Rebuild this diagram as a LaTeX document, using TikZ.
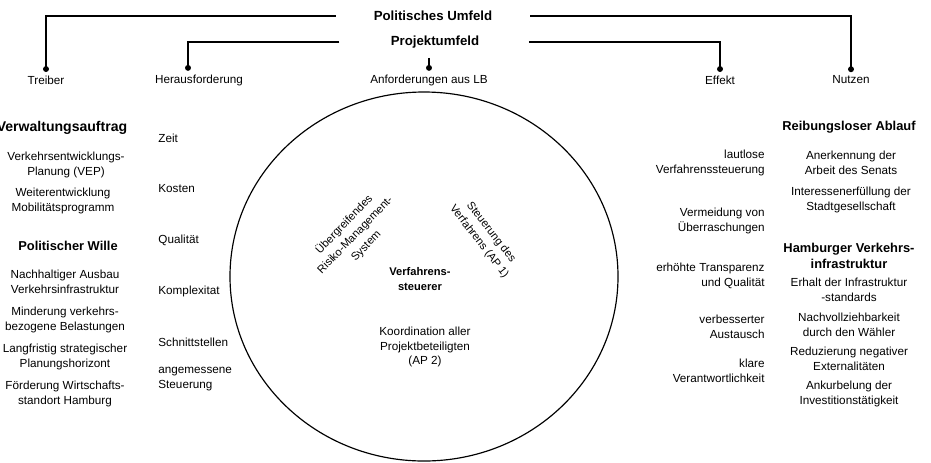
\documentclass[tikz,border=0pt]{standalone}
\usepackage{fontspec}
\setmainfont{Liberation Sans}
\usetikzlibrary{arrows.meta, shapes.geometric, calc}

\begin{document}
\begin{tikzpicture}[
    x=0.03cm, y=-0.03cm,
    txt/.style={font=\fontsize{10}{12.75}\selectfont, align=center, inner sep=1pt},
    head/.style={font=\fontsize{11}{13.5}\selectfont\bfseries, align=center, inner sep=1pt},
    lefttxt/.style={txt, anchor=west, align=left},
    righttxt/.style={txt, anchor=east, align=right},
    turned/.style={txt, font=\fontsize{9.5}{13}\selectfont},
    link/.style={line width=1pt, -{Circle[length=5pt]}, shorten >=2pt},
]

\useasboundingbox (0,0) rectangle (931,462);
\clip (0,0) rectangle (931,462);

% Umfeld
\node[head, font=\fontsize{11.3}{13.5}\selectfont\bfseries] (pol) at (433,16) {Politisches Umfeld};
\node[head, font=\fontsize{11.3}{13.5}\selectfont\bfseries] (proj) at (435,42) {Projektumfeld};

% Columns
\node[txt] (treib) at (46,80) {Treiber};
\node[txt] (her) at (199,80) {Herausforderung};
\node[txt] (anf) at (429,80) {Anforderungen aus LB};
\node[txt] (eff) at (720,80) {Effekt};
\node[txt] (nutz) at (851,80) {Nutzen};

% Connectors
\draw[link, shorten <=1.1cm] (pol.west) -| (treib.north);
\draw[link, shorten <=1.1cm] (pol.east) -| (nutz.north);
\draw[link, shorten <=1.5cm] (proj.west) -| ($(her.north)+(-11,0)$);
\draw[link, shorten <=1.45cm] (proj.east) -| (eff.north);
\draw[link, shorten <=0.25cm] (proj.south -| anf.north) -- (anf.north);

% Treiber
\node[head, font=\fontsize{12}{14}\selectfont\bfseries] (verw) at (62,128) {Verwaltungsauftrag};
\node[txt] (vep) at (66,164.5) {Verkehrsentwicklungs-\\Planung (VEP)};
\node[txt] (mob) at (63,200.5) {Weiterentwicklung\\Mobilitätsprogramm};
\node[head] (wille) at (68,246) {Politischer Wille};
\node[txt] (ausbau) at (65,281.5) {Nachhaltiger Ausbau\\Verkehrsinfrastruktur};
\node[txt] (minder) at (65,319.5) {Minderung verkehrs-\\bezogene Belastungen};
\node[txt] (lang) at (65,356.5) {Langfristig strategischer\\Planungshorizont};
\node[txt] (foerd) at (65,393.5) {Förderung Wirtschafts-\\standort Hamburg};

% Herausforderung
\node[lefttxt] (zeit) at (157,138) {Zeit};
\node[lefttxt] (kosten) at (157,189) {Kosten};
\node[lefttxt] (qual) at (157,240) {Qualität};
\node[lefttxt] (komp) at (157,291) {Komplexitat};
\node[lefttxt] (schnitt) at (157,342) {Schnittstellen};
\node[lefttxt] (angem) at (157,379) {angemessene\\Steuerung};

% Anforderungen aus LB
\node[ellipse, draw, line width=1pt, inner sep=0pt,
      minimum width=11.64cm, minimum height=11.07cm] (steuer) at (424,276.5) {};
\node[turned, rotate=46] (risk) at (355,235)
    {Übergreifendes\\Risiko-Management-\\System};
\node[turned, rotate=-52] (steuap) at (485,237)
    {Steuerung des\\Verfahrens (AP 1)};
\node[txt, font=\fontsize{9.5}{12.5}\selectfont\bfseries] (verf) at (420,279) {Verfahrens-\\steuerer};
\node[txt] (koord) at (425,347) {Koordination aller\\Projektbeteiligten\\(AP 2)};

% Effekt
\node[righttxt] (lautlos) at (766,162.5) {lautlose\\Verfahrenssteuerung};
\node[righttxt] (vermeid) at (766,220.5) {Vermeidung von\\Überraschungen};
\node[righttxt] (transp) at (766,275.5) {erhöhte Transparenz\\und Qualität};
\node[righttxt] (austausch) at (766,327) {verbesserter\\Austausch};
\node[righttxt] (klar) at (766,370.5) {klare\\Verantwortlichkeit};

% Nutzen
\node[head] (reib) at (849,127) {Reibungsloser Ablauf};
\node[txt] (anerk) at (851,162.5) {Anerkennung der\\Arbeit des Senats};
\node[txt] (inter) at (851,200) {Interessenerfüllung der\\Stadtgesellschaft};
\node[head] (hamb) at (849,256) {Hamburger Verkehrs-\\infrastruktur};
\node[txt] (erhalt) at (849,289.5) {Erhalt der Infrastruktur\\-standards};
\node[txt] (nachv) at (849,324.5) {Nachvollziehbarkeit\\durch den Wähler};
\node[txt] (reduz) at (849,359) {Reduzierung negativer\\Externalitäten};
\node[txt] (ankurb) at (849,393.5) {Ankurbelung der\\Investitionstätigkeit};

\end{tikzpicture}
\end{document}
